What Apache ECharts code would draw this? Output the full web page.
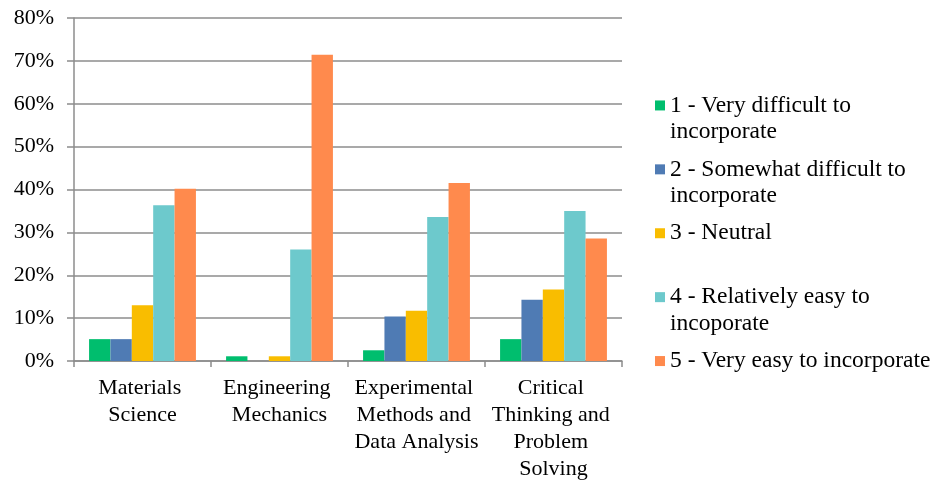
<!DOCTYPE html>
<html>
<head>
<meta charset="utf-8">
<script src="https://cdn.jsdelivr.net/npm/echarts@6/dist/echarts.min.js"></script>
<style>html,body{margin:0;padding:0;background:#fff;}#c{width:936px;height:485px;}</style>
</head>
<body>
<div id="c"></div>
<script>
const categories = ["Materials Science", "Engineering Mechanics", "Experimental Methods and Data Analysis", "Critical Thinking and Problem Solving"];
const seriesNames = ["1 - Very difficult to incorporate", "2 - Somewhat difficult to incorporate", "3 - Neutral", "4 - Relatively easy to incoporate", "5 - Very easy to incorporate"];
const legendLabels = ["1 - Very difficult to\nincorporate", "2 - Somewhat difficult to\nincorporate", "3 - Neutral", "4 - Relatively easy to\nincoporate", "5 - Very easy to incorporate"];
const v1 = [5.1, 1.1, 2.5, 5.1];
const v2 = [5.1, 0, 10.4, 14.3];
const v3 = [13.0, 1.1, 11.7, 16.7];
const v4 = [36.3, 26.0, 33.6, 35.0];
const v5 = [40.2, 71.4, 41.5, 28.6];
const yTicks = [0, 10, 20, 30, 40, 50, 60, 70, 80];
const colors = ["#00BE6E", "#4F7BB4", "#F9BD00", "#6DC9CC", "#FF8A4D"];

const values = [v1, v2, v3, v4, v5];
const font = "'Liberation Serif', 'Times New Roman', serif";
const chart = echarts.init(document.getElementById('c'), null, {renderer: 'canvas'});
chart.setOption({
  animation: false,
  color: colors,
  textStyle: {fontFamily: font},
  grid: {left: 74, right: 314, top: 18, bottom: 124, containLabel: false},
  legend: {
    orient: 'vertical',
    left: 655,
    top: 66,
    padding: 0,
    itemGap: -15,
    itemWidth: 10,
    itemHeight: 10,
    icon: 'rect',
    selectedMode: false,
    data: seriesNames,
    formatter: function (name) {
      const lab = legendLabels[seriesNames.indexOf(name)];
      const parts = lab.split('\n');
      return ' \n' + parts[0] + '\n' + (parts[1] || ' ');
    },
    textStyle: {fontFamily: font, fontSize: 23.5, lineHeight: 26.3, color: '#000'}
  },
  xAxis: {
    type: 'category',
    data: categories,
    axisLine: {lineStyle: {color: '#8c8c8c', width: 1.5}},
    axisTick: {show: true, length: 6, lineStyle: {color: '#8c8c8c', width: 1.5}},
    axisLabel: {
      interval: 0, margin: 14, color: '#000', fontFamily: font, fontSize: 22, lineHeight: 27,
      width: 134, overflow: 'break', align: 'center'
    }
  },
  yAxis: {
    type: 'value',
    min: yTicks[0], max: yTicks[yTicks.length - 1], interval: 10,
    axisLine: {show: true, lineStyle: {color: '#8c8c8c', width: 1.5}},
    axisTick: {show: true, length: 7, lineStyle: {color: '#8c8c8c', width: 1.5}},
    splitLine: {show: true, lineStyle: {color: '#8c8c8c', width: 1.5}},
    axisLabel: {formatter: '{value}%', margin: 20, color: '#000', fontFamily: font, fontSize: 22}
  },
  series: seriesNames.map((n, i) => ({
    name: n,
    type: 'bar',
    data: values[i],
    barGap: '0%',
    barCategoryGap: '22%',
    itemStyle: {color: colors[i]}
  }))
});
</script>
</body>
</html>
